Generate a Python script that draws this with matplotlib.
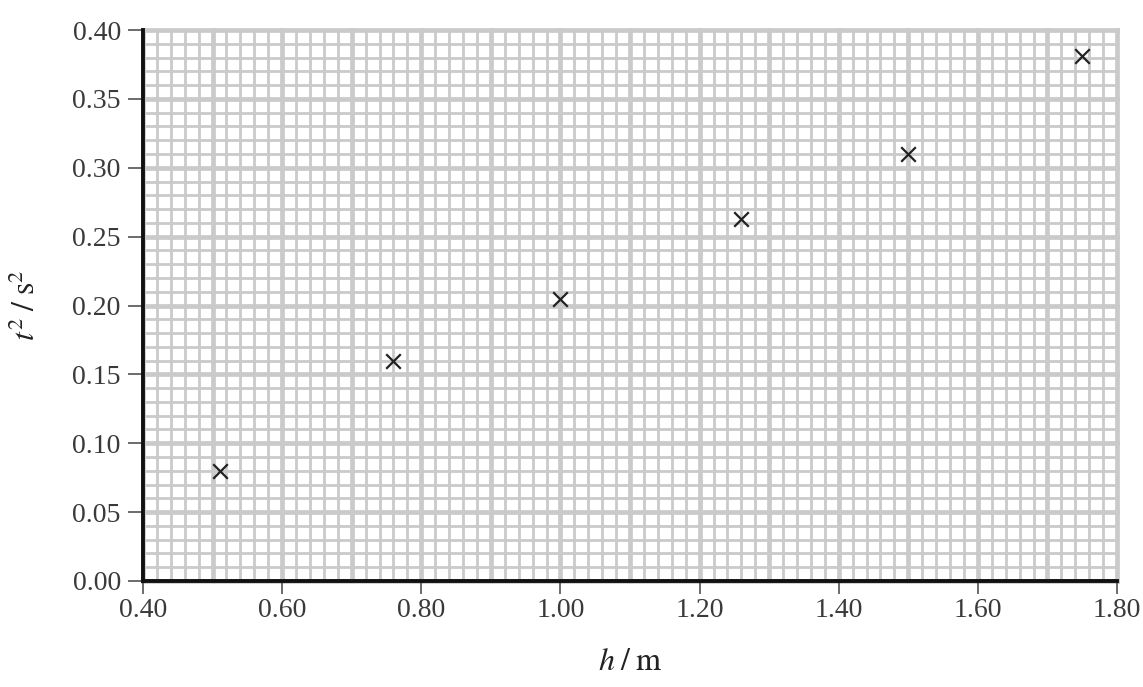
import numpy as np
import matplotlib
matplotlib.use("Agg")
import matplotlib.pyplot as plt
from matplotlib.ticker import MultipleLocator

plt.rcParams['font.family'] = ['Liberation Serif', 'DejaVu Serif']
plt.rcParams['mathtext.fontset'] = 'stix'

# measured values
h = [0.51, 0.76, 1.00, 1.26, 1.50, 1.75]
t2 = [0.080, 0.160, 0.205, 0.263, 0.310, 0.381]

fig = plt.figure(figsize=(11.43, 6.87), dpi=100)
ax = fig.add_axes([0.1251, 0.1543, 0.8522, 0.802])

ax.set_xlim(0.40, 1.80)
ax.set_ylim(0.00, 0.40)

grid_col = '#cacaca'
# graph paper: thin lines every 0.02 / 0.01, thick every 0.1 / 0.05
for xv in np.arange(0.40, 1.8001, 0.02):
    major = abs(round(xv * 10) - xv * 10) < 1e-6
    ax.axvline(xv, color=grid_col, lw=3.4 if major else 2.0, zorder=0, clip_on=False)
for yv in np.arange(0.0, 0.4001, 0.01):
    major = abs(round(yv * 20) - yv * 20) < 1e-6
    ax.axhline(yv, color=grid_col, lw=3.4 if major else 2.0, zorder=0, clip_on=False)

ax.scatter(h, t2, marker='x', s=110, c='#222222', linewidths=1.6, zorder=3)

ax.xaxis.set_major_locator(MultipleLocator(0.2))
ax.yaxis.set_major_locator(MultipleLocator(0.05))
ax.set_xticklabels(['%.2f' % v for v in ax.get_xticks()])
ax.set_yticklabels(['%.2f' % v for v in ax.get_yticks()])

ax.spines['top'].set_visible(False)
ax.spines['right'].set_visible(False)
for s in ('left', 'bottom'):
    ax.spines[s].set_linewidth(2.8)
    ax.spines[s].set_color('#111111')
    ax.spines[s].set_zorder(4)

ax.tick_params(axis='x', direction='out', length=9, width=1.1, colors='#444444',
               labelsize=20, labelcolor='#3a3a3a', pad=3)
ax.tick_params(axis='y', direction='out', length=11, width=1.1, colors='#444444',
               labelsize=20, labelcolor='#3a3a3a', pad=5)

ax.set_xlabel(r'$h\;/\;\mathrm{m}$', fontsize=23, labelpad=18, color='#222222')
ax.set_ylabel(r'$t^2\;/\;\mathrm{s}^2$', fontsize=23, labelpad=22, color='#222222')

fig.savefig('out.png', dpi=100)
